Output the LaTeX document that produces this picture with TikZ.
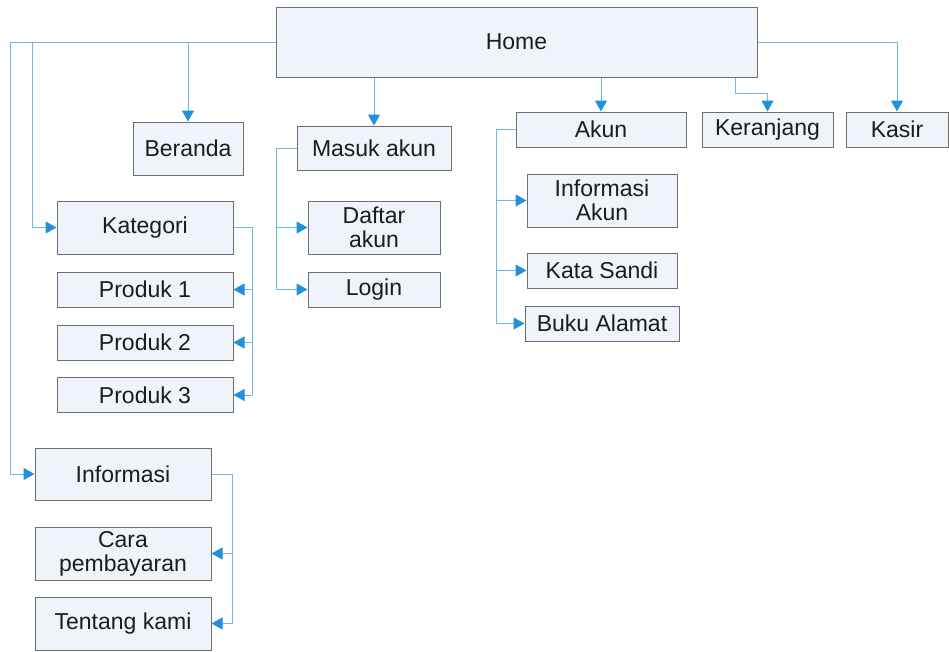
\documentclass[tikz,border=0pt]{standalone}
\usepackage{fontspec}
\setmainfont{Liberation Sans}
\usetikzlibrary{arrows.meta}
\definecolor{boxfill}{HTML}{EFF4FA}
\definecolor{boxline}{HTML}{6E6E6E}
\definecolor{lineblue}{HTML}{6DB9E3}
\definecolor{tipblue}{HTML}{2191D8}
\definecolor{txt}{HTML}{1C1C1C}
\begin{document}
\begin{tikzpicture}[x=1pt,y=-1pt,
  mbox/.style={draw=boxline, line width=1pt, fill=boxfill, inner sep=0pt, align=center,
    text=txt, font=\fontsize{23}{24}\selectfont},
  conn/.style={draw=lineblue, line width=1pt},
  arr/.style={conn, -{Triangle[length=11pt,width=12pt,fill=tipblue,color=tipblue]}}]
\useasboundingbox (0,0) rectangle (949,651);
% boxes
\node[mbox, minimum width=481, minimum height=70] (home) at (516.5,42) {Home};
\node[mbox, minimum width=110, minimum height=53] (beranda) at (188,148.5) {Beranda};
\node[mbox, minimum width=154, minimum height=44] (masuk) at (374,148) {Masuk akun};
\node[mbox, minimum width=170, minimum height=35] (akun) at (601,129.5) {Akun};
\node[mbox, minimum width=131, minimum height=35] (keranjang) at (767.5,129.5) {Keranjang};
\node[mbox, minimum width=102, minimum height=35] (kasir) at (897,129.5) {Kasir};
\node[mbox, minimum width=176, minimum height=53] (kategori) at (145,227.5) {Kategori};
\node[mbox, minimum width=176, minimum height=35] (produk1) at (145,289.5) {Produk 1};
\node[mbox, minimum width=176, minimum height=35] (produk2) at (145,342.5) {Produk 2};
\node[mbox, minimum width=176, minimum height=35] (produk3) at (145,395) {Produk 3};
\node[mbox, minimum width=132, minimum height=53] (daftar) at (374,227.5) {Daftar\\akun};
\node[mbox, minimum width=132, minimum height=35] (login) at (374,289.5) {Login};
\node[mbox, minimum width=150, minimum height=53] (infoakun) at (602,200.5) {Informasi\\Akun};
\node[mbox, minimum width=150, minimum height=35] (sandi) at (602,270.5) {Kata Sandi};
\node[mbox, minimum width=154, minimum height=35] (buku) at (602,323.5) {Buku Alamat};
\node[mbox, minimum width=176, minimum height=52] (informasi) at (123,474) {Informasi};
\node[mbox, minimum width=176, minimum height=53] (cara) at (123,553.5) {Cara\\pembayaran};
\node[mbox, minimum width=176, minimum height=53] (tentang) at (123,623.5) {Tentang kami};
% bend coordinates
\coordinate (bendA) at (10,42);
\coordinate (bendB) at (32,42);
\coordinate (kbend) at (735,93);
\coordinate (katbus) at (252,0);
\coordinate (masbus) at (276,0);
\coordinate (akunbus) at (496,0);
\coordinate (infbus) at (232,0);
% connectors from Home
\draw[arr] (home.west) -- (bendA) |- (informasi.west);
\draw[arr] (bendB) |- (kategori.west);
\draw[arr] (beranda.north |- home.west) -- (beranda.north);
\draw[arr] (masuk.north |- home.south) -- (masuk.north);
\draw[arr] (akun.north |- home.south) -- (akun.north);
\draw[arr] (kbend |- home.south) -- (kbend) -| (keranjang.north);
\draw[arr] (home.east) -| (kasir.north);
% Kategori
\draw[conn] (kategori.east) -| (katbus |- produk3.east);
\draw[arr] (katbus |- produk1.east) -- (produk1.east);
\draw[arr] (katbus |- produk2.east) -- (produk2.east);
\draw[arr] (katbus |- produk3.east) -- (produk3.east);
% Masuk akun
\draw[conn] (masuk.west) -| (masbus |- login.west);
\draw[arr] (masbus |- daftar.west) -- (daftar.west);
\draw[arr] (masbus |- login.west) -- (login.west);
% Akun
\draw[conn] (akun.west) -| (akunbus |- buku.west);
\draw[arr] (akunbus |- infoakun.west) -- (infoakun.west);
\draw[arr] (akunbus |- sandi.west) -- (sandi.west);
\draw[arr] (akunbus |- buku.west) -- (buku.west);
% Informasi
\draw[conn] (informasi.east) -| (infbus |- tentang.east);
\draw[arr] (infbus |- cara.east) -- (cara.east);
\draw[arr] (infbus |- tentang.east) -- (tentang.east);
\end{tikzpicture}
\end{document}
